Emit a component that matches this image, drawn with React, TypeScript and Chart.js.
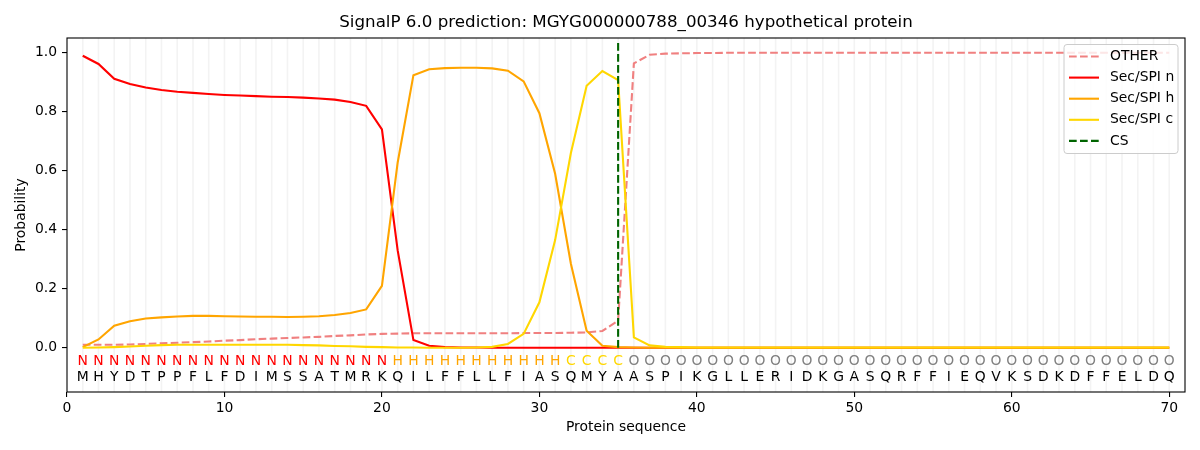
import React, { useEffect, useRef } from "react";
import { Chart, registerables } from "chart.js";

Chart.register(...registerables);

const TITLE = "SignalP 6.0 prediction: MGYG000000788_00346 hypothetical protein";
const X_TITLE = "Protein sequence";
const Y_TITLE = "Probability";

const SEQUENCE = "MHYDTPPFLFDIMSSATMRKQILFFLLFIASQMYAASPIKGLLERIDKGASQRFFIEQVKSDKDFFELDQ".split("");
const REGION_LABELS = "NNNNNNNNNNNNNNNNNNNNHHHHHHHHHHHCCCCOOOOOOOOOOOOOOOOOOOOOOOOOOOOOOOOOOO".split("");
const POSITIONS = SEQUENCE.map((_, i) => i + 1);

const OTHER = [
  0.010, 0.010, 0.010, 0.011, 0.013, 0.015, 0.017, 0.019, 0.021, 0.024,
  0.026, 0.029, 0.031, 0.033, 0.035, 0.037, 0.040, 0.042, 0.045, 0.047,
  0.048, 0.049, 0.049, 0.049, 0.049, 0.049, 0.049, 0.049, 0.050, 0.050,
  0.050, 0.051, 0.052, 0.057, 0.092, 0.964, 0.993, 0.997, 0.998, 0.999,
  0.999, 1.000, 1.000, 1.000, 1.000, 1.000, 1.000, 1.000, 1.000, 1.000,
  1.000, 1.000, 1.000, 1.000, 1.000, 1.000, 1.000, 1.000, 1.000, 1.000,
  1.000, 1.000, 1.000, 1.000, 1.000, 1.000, 1.000, 1.000, 1.000, 1.000,
];

const SEC_N = [
  0.990, 0.962, 0.912, 0.894, 0.882, 0.874, 0.868, 0.864, 0.860, 0.857,
  0.855, 0.853, 0.851, 0.850, 0.848, 0.845, 0.841, 0.833, 0.820, 0.740,
  0.330, 0.026, 0.007, 0.002, 0.001, 0.001, 0.000, 0.000, 0.000, 0.000,
  0.000, 0.000, 0.000, 0.000, 0.000, 0.000, 0.000, 0.000, 0.000, 0.000,
  0.000, 0.000, 0.000, 0.000, 0.000, 0.000, 0.000, 0.000, 0.000, 0.000,
  0.000, 0.000, 0.000, 0.000, 0.000, 0.000, 0.000, 0.000, 0.000, 0.000,
  0.000, 0.000, 0.000, 0.000, 0.000, 0.000, 0.000, 0.000, 0.000, 0.000,
];

const SEC_H = [
  0.002, 0.028, 0.075, 0.090, 0.099, 0.103, 0.106, 0.108, 0.108, 0.107,
  0.106, 0.105, 0.105, 0.104, 0.105, 0.107, 0.111, 0.118, 0.130, 0.210,
  0.628, 0.924, 0.944, 0.948, 0.949, 0.949, 0.947, 0.939, 0.903, 0.795,
  0.590, 0.285, 0.058, 0.007, 0.002, 0.001, 0.000, 0.000, 0.000, 0.000,
  0.000, 0.000, 0.000, 0.000, 0.000, 0.000, 0.000, 0.000, 0.000, 0.000,
  0.000, 0.000, 0.000, 0.000, 0.000, 0.000, 0.000, 0.000, 0.000, 0.000,
  0.000, 0.000, 0.000, 0.000, 0.000, 0.000, 0.000, 0.000, 0.000, 0.000,
];

const SEC_C = [
  0.000, 0.001, 0.002, 0.004, 0.007, 0.009, 0.010, 0.010, 0.010, 0.010,
  0.010, 0.010, 0.010, 0.010, 0.009, 0.008, 0.006, 0.005, 0.003, 0.002,
  0.001, 0.001, 0.000, 0.000, 0.000, 0.001, 0.003, 0.013, 0.047, 0.154,
  0.365, 0.660, 0.888, 0.938, 0.907, 0.035, 0.008, 0.003, 0.002, 0.001,
  0.001, 0.001, 0.001, 0.001, 0.001, 0.001, 0.001, 0.001, 0.001, 0.001,
  0.001, 0.001, 0.001, 0.001, 0.001, 0.001, 0.001, 0.001, 0.001, 0.001,
  0.001, 0.001, 0.001, 0.001, 0.001, 0.001, 0.001, 0.001, 0.001, 0.001,
];

const CS_POSITION = 35;
const CS_SPAN = [0, 1.035];

const X_TICKS = [0, 10, 20, 30, 40, 50, 60, 70];
const Y_TICKS = [0, 0.2, 0.4, 0.6, 0.8, 1.0];

const FONT = "'DejaVu Sans', 'Liberation Sans', sans-serif";
const DASH = [7.7, 3.3];

const LABEL_COLORS: Record<string, string> = {
  N: "#ff0000",
  H: "#ffa500",
  C: "#ffd700",
  O: "#808080",
};

const LEGEND_ITEMS = [
  { label: "OTHER", color: "#f08080", dash: DASH },
  { label: "Sec/SPI n", color: "#ff0000", dash: [] as number[] },
  { label: "Sec/SPI h", color: "#ffa500", dash: [] as number[] },
  { label: "Sec/SPI c", color: "#ffd700", dash: [] as number[] },
  { label: "CS", color: "#006400", dash: DASH },
];

const toPoints = (vals: number[]) => POSITIONS.map((p, i) => ({ x: p, y: vals[i] }));

const overlayPlugin = {
  id: "overlay",
  beforeDatasetsDraw(chart: any) {
    const { ctx, chartArea: a, scales } = chart;
    const x = scales.x;
    ctx.save();
    ctx.strokeStyle = "#f3f3f3";
    ctx.lineWidth = 1.6;
    POSITIONS.forEach((p) => {
      const px = x.getPixelForValue(p);
      ctx.beginPath();
      ctx.moveTo(px, a.top);
      ctx.lineTo(px, a.bottom);
      ctx.stroke();
    });
    ctx.restore();
  },
  afterDatasetsDraw(chart: any) {
    const { ctx, chartArea: a, scales } = chart;
    const x = scales.x;
    const y = scales.y;
    ctx.save();
    // residue letters
    ctx.font = `13.9px ${FONT}`;
    ctx.textAlign = "center";
    ctx.textBaseline = "middle";
    POSITIONS.forEach((p, i) => {
      const px = x.getPixelForValue(p);
      ctx.fillStyle = LABEL_COLORS[REGION_LABELS[i]];
      ctx.fillText(REGION_LABELS[i], px, y.getPixelForValue(-0.047));
      ctx.fillStyle = "#000000";
      ctx.fillText(SEQUENCE[i], px, y.getPixelForValue(-0.1));
    });

    // axes frame
    ctx.strokeStyle = "#000000";
    ctx.lineWidth = 1.1;
    ctx.strokeRect(a.left, a.top, a.right - a.left, a.bottom - a.top);

    // legend
    const bw = 114;
    const bh = 109;
    const bx = a.right - 7 - bw;
    const by = a.top + 6.5;
    const r = 3;
    ctx.beginPath();
    ctx.moveTo(bx + r, by);
    ctx.lineTo(bx + bw - r, by);
    ctx.arcTo(bx + bw, by, bx + bw, by + r, r);
    ctx.lineTo(bx + bw, by + bh - r);
    ctx.arcTo(bx + bw, by + bh, bx + bw - r, by + bh, r);
    ctx.lineTo(bx + r, by + bh);
    ctx.arcTo(bx, by + bh, bx, by + bh - r, r);
    ctx.lineTo(bx, by + r);
    ctx.arcTo(bx, by, bx + r, by, r);
    ctx.closePath();
    ctx.fillStyle = "rgba(255,255,255,0.8)";
    ctx.fill();
    ctx.strokeStyle = "#cccccc";
    ctx.lineWidth = 1;
    ctx.stroke();

    ctx.textAlign = "left";
    ctx.textBaseline = "middle";
    ctx.font = `13.9px ${FONT}`;
    LEGEND_ITEMS.forEach((item, i) => {
      const cy = by + 12 + i * 21.1;
      ctx.beginPath();
      ctx.setLineDash(item.dash);
      ctx.strokeStyle = item.color;
      ctx.lineWidth = 2.1;
      ctx.moveTo(bx + 5, cy);
      ctx.lineTo(bx + 35, cy);
      ctx.stroke();
      ctx.setLineDash([]);
      ctx.fillStyle = "#000000";
      ctx.fillText(item.label, bx + 46, cy);
    });
    ctx.restore();
  },
  afterDraw(chart: any) {
    const { ctx, chartArea: a } = chart;
    const cx = (a.left + a.right) / 2;
    ctx.save();
    ctx.fillStyle = "#000000";
    ctx.textAlign = "center";
    ctx.textBaseline = "middle";
    ctx.font = `16.7px ${FONT}`;
    ctx.fillText(TITLE, cx, 23);
    ctx.font = `13.9px ${FONT}`;
    ctx.fillText(X_TITLE, cx, 427);
    ctx.translate(21.5, (a.top + a.bottom) / 2);
    ctx.rotate(-Math.PI / 2);
    ctx.fillText(Y_TITLE, 0, 0);
    ctx.restore();
  },
};

export default function App() {
  const canvasRef = useRef<HTMLCanvasElement | null>(null);

  useEffect(() => {
    document.body.style.margin = "0";
    const canvas = canvasRef.current;
    if (!canvas) return;
    const lineDs = (label: string, vals: number[], color: string, order: number, dash: number[] = []) => ({
      label,
      data: toPoints(vals),
      borderColor: color,
      backgroundColor: color,
      borderWidth: 2.1,
      borderDash: dash,
      pointRadius: 0,
      tension: 0,
      fill: false,
      order,
    });
    const chart = new Chart(canvas, {
      type: "line",
      data: {
        datasets: [
          lineDs("OTHER", OTHER, "#f08080", 5, DASH),
          lineDs("Sec/SPI n", SEC_N, "#ff0000", 4),
          lineDs("Sec/SPI h", SEC_H, "#ffa500", 3),
          lineDs("Sec/SPI c", SEC_C, "#ffd700", 2),
          {
            label: "CS",
            data: CS_SPAN.map((v) => ({ x: CS_POSITION, y: v })),
            borderColor: "#006400",
            backgroundColor: "#006400",
            borderWidth: 2.1,
            borderDash: DASH,
            pointRadius: 0,
            fill: false,
            order: 1,
          },
        ] as any,
      },
      options: {
        animation: false,
        responsive: false,
        maintainAspectRatio: false,
        events: [],
        layout: { padding: { top: 38, right: 15, left: 0, bottom: 0 } },
        plugins: {
          legend: { display: false },
          title: { display: false },
          tooltip: { enabled: false },
        },
        scales: {
          x: {
            type: "linear",
            min: 0,
            max: 71,
            afterBuildTicks: (s: any) => {
              s.ticks = X_TICKS.map((v) => ({ value: v }));
            },
            afterFit: (s: any) => {
              s.height = 58;
            },
            ticks: {
              autoSkip: false,
              maxRotation: 0,
              padding: 3,
              color: "#000000",
              font: { family: FONT, size: 13.9 },
              callback: (v: any) => String(v),
            },
            grid: {
              drawOnChartArea: false,
              drawTicks: true,
              tickLength: 5,
              color: "#000000",
              lineWidth: 1.1,
            },
            border: { display: false },
          },
          y: {
            type: "linear",
            min: -0.15,
            max: 1.05,
            afterBuildTicks: (s: any) => {
              s.ticks = Y_TICKS.map((v) => ({ value: v }));
            },
            afterFit: (s: any) => {
              s.width = 67;
            },
            ticks: {
              autoSkip: false,
              padding: 5,
              color: "#000000",
              font: { family: FONT, size: 13.9 },
              callback: (v: any) => Number(v).toFixed(1),
            },
            grid: {
              drawOnChartArea: false,
              drawTicks: true,
              tickLength: 5,
              color: "#000000",
              lineWidth: 1.1,
            },
            border: { display: false },
          },
        },
      } as any,
      plugins: [overlayPlugin],
    });
    return () => chart.destroy();
  }, []);

  return (
    <div style={{ position: "absolute", left: 0, top: 0, width: 1200, height: 450, background: "#ffffff" }}>
      <canvas ref={canvasRef} width={1200} height={450} style={{ width: 1200, height: 450 }} />
    </div>
  );
}
